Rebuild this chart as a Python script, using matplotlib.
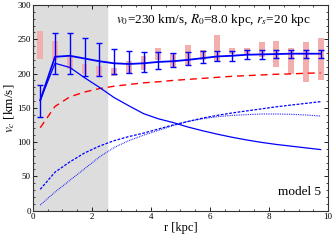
import numpy as np
import matplotlib
matplotlib.use('Agg')
import matplotlib.pyplot as plt
from matplotlib.ticker import MultipleLocator

plt.rcParams['font.family'] = ['Liberation Serif', 'DejaVu Serif']
plt.rcParams['mathtext.fontset'] = 'stix'

# radii of the points (kpc)
r = [0.25, 0.75, 1.25, 1.75, 2.25, 2.75, 3.25, 3.75, 4.25, 4.75,
     5.25, 5.75, 6.25, 6.75, 7.25, 7.75, 8.25, 8.75, 9.25, 9.75]

# observed data boxes (low / high)
obs_lo = [221, 220, 207, 199, 196, 196, 200, 205, 220, 210,
          212, 220, 217, 229, 227, 224, 210, 199, 187, 191]
obs_hi = [262, 247, 224, 214, 211, 208, 219, 225, 238, 230,
          241, 235, 256, 238, 238, 246, 247, 238, 246, 252]

# model total with its error band
v_tot = [161, 224.5, 226, 222, 218, 215, 214, 215, 217, 218,
         220, 222.5, 225, 226, 227.5, 228, 228.5, 229, 229, 229]
tot_hi = [184, 259, 259, 252, 244, 236, 232.5, 231, 231, 229.5,
          232, 232.5, 233.5, 233.5, 234, 234, 234, 234, 234, 234]
tot_lo = [136.5, 199, 200, 197, 197, 199, 200.5, 202, 206, 209,
          213, 215, 218, 219, 221.5, 222, 222.5, 223, 223, 223]

# components
v_solid = [161, 215, 209, 194, 180, 165, 153, 141.5, 134, 128.5,
           122, 116.5, 111.5, 107, 103, 99.5, 96.5, 94, 91.5, 89]
v_dash = [31, 56, 71, 84, 94, 102, 108, 113, 119, 125,
          130, 135, 139, 142.5, 145.5, 148.5, 151.5, 154, 156.5, 159]
v_dot = [8, 27, 44, 61, 78, 92, 102, 110, 117, 124,
         130, 134, 137, 139, 140, 141, 141, 140.5, 139.5, 138]
v_red = [121, 152, 166, 173, 178, 181.5, 184, 186.5, 188, 190,
         191.5, 193, 194.5, 196, 197, 198, 199, 199.5, 200.5, 201]

v_tot = np.array(v_tot)
err = [v_tot - np.array(tot_lo), np.array(tot_hi) - v_tot]

fig = plt.figure(figsize=(3.32, 2.42), dpi=100)
ax = fig.add_axes([0.099, 0.13, 0.889, 0.849])

ax.axvspan(0, 2.5, color='#dddddd', zorder=0)
ax.bar(r, np.array(obs_hi) - np.array(obs_lo), bottom=obs_lo, width=0.2,
       color='#f3aeae', zorder=1)

ax.plot(r, v_red, color='red', ls=(0, (5, 3.5)), lw=1.0, zorder=2)
ax.plot(r, v_solid, color='blue', lw=0.9, zorder=3)
ax.plot(r, v_dash, color='blue', ls=(0, (2.2, 1.2)), lw=0.9, zorder=3)
ax.plot(r, v_dot, color='blue', ls=(0, (0.7, 0.9)), lw=0.8, zorder=3)
ax.errorbar(r, v_tot, yerr=err, color='blue', lw=1.3, elinewidth=1.0,
            capsize=2, capthick=1.0, zorder=4)

ax.set_xlim(0, 10)
ax.set_ylim(0, 300)
ax.xaxis.set_major_locator(MultipleLocator(2))
ax.xaxis.set_minor_locator(MultipleLocator(0.5))
ax.yaxis.set_major_locator(MultipleLocator(50))
ax.yaxis.set_minor_locator(MultipleLocator(10))
ax.tick_params(which='both', direction='in', top=True, right=True,
               labelsize=6.5, pad=1.5)
ax.tick_params(which='major', length=3, width=0.6)
ax.tick_params(which='minor', length=1.6, width=0.5)
for s in ax.spines.values():
    s.set_linewidth(0.8)
    s.set_color('#333333')

ax.set_xlabel('r [kpc]', fontsize=9, labelpad=1)
ax.set_ylabel('$v_c$ [km/s]', fontsize=9.5, labelpad=0)

ax.text(0.94, 0.965, '$v_0$=230 km/s, $R_0$=8.0 kpc, $r_s$=20 kpc',
        transform=ax.transAxes, ha='right', va='top', fontsize=9.5)
ax.text(0.975, 0.06, 'model 5', transform=ax.transAxes,
        ha='right', va='bottom', fontsize=9.5)

fig.savefig('out.png', dpi=100)
